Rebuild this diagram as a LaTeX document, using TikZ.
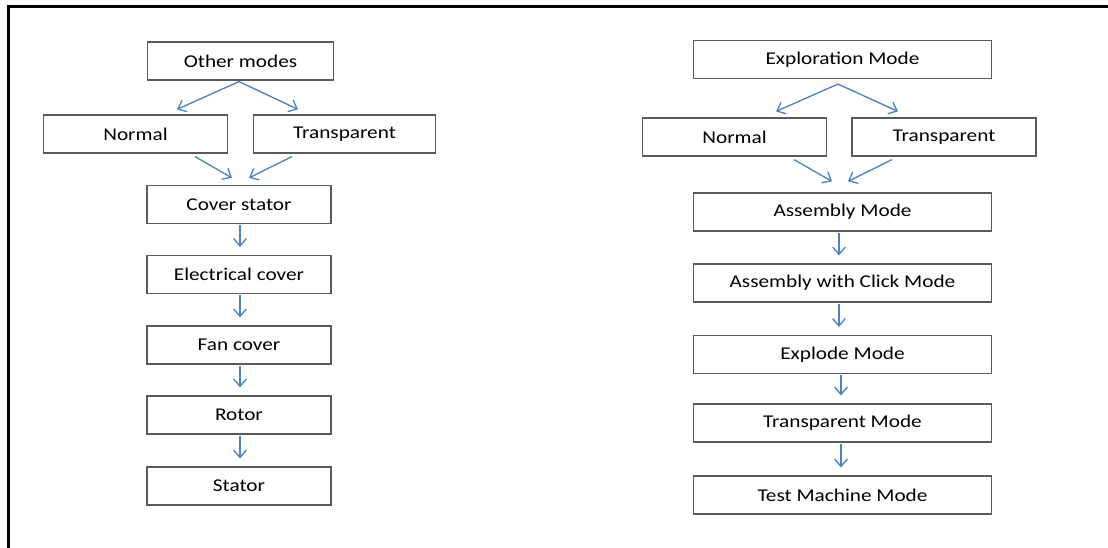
\documentclass[tikz,border=0pt]{standalone}
\usepackage{fontspec}
\setmainfont{Carlito}[FakeStretch=1.18]
\usetikzlibrary{arrows.meta,calc}
\definecolor{arrblue}{HTML}{4F81BD}
\definecolor{boxgray}{HTML}{5A5A5A}
\tikzset{
  modebox/.style={draw=boxgray, line width=0.9pt, fill=white, inner sep=0pt,
    minimum height=28.5pt, font=\fontsize{13.5}{16}\selectfont},
  leftbox/.style={modebox, minimum width=138pt},
  rightbox/.style={modebox, minimum width=224pt},
  arr/.style={draw=arrblue, line width=1pt,
    -{Straight Barb[length=5.5pt,width=9.5pt,line width=1pt]}},
  frameline/.style={draw=black, line width=1.6pt}
}
\begin{document}
\begin{tikzpicture}[x=0.75pt,y=-0.75pt]
\useasboundingbox (0,0) rectangle (1108,548);
% frame
\draw[frameline] (1108,6.5) -- (8.5,6.5) -- (8.5,548);
% left column
\node[leftbox, minimum width=139pt] (om) at (240.5,61) {Other modes};
\node[leftbox] (ln) at (135.5,134) {Normal};
\node[leftbox, minimum width=137pt] (lt) at (344.5,134) {Transparent};
\node[leftbox] (cs) at (239,204.5) {Cover stator};
\node[leftbox] (ec) at (239,274.5) {Electrical cover};
\node[leftbox] (fc) at (239,345) {Fan cover};
\node[leftbox] (ro) at (239,415) {Rotor};
\node[leftbox] (st) at (239,486) {Stator};
% right column
\node[rightbox] (em) at (842.5,59.5) {Exploration Mode};
\node[leftbox] (rn) at (734.5,137) {Normal};
\node[leftbox] (rt) at (944,137) {Transparent};
\node[rightbox] (am) at (842.5,212) {Assembly Mode};
\node[rightbox] (ac) at (842.5,283) {Assembly with Click Mode};
\node[rightbox] (ex) at (842.5,354.5) {Explode Mode};
\node[rightbox] (tm) at (842.5,423) {Transparent Mode};
\node[rightbox] (tt) at (842.5,495) {Test Machine Mode};
% left arrows
\draw[arr] ($(om.south)+(-1.5,1)$) -- ($(ln.north)+(41.5,-5)$);
\draw[arr] ($(om.south)+(-1.5,1)$) -- ($(lt.north)+(-46.5,-5)$);
\draw[arr] ($(ln.south)+(59.5,3)$) -- ($(cs.north)+(-7,-7)$);
\draw[arr] ($(lt.south)+(-52.5,3)$) -- ($(cs.north)+(10,-7)$);
\draw[arr] ($(cs.south)+(1,1)$) -- ($(ec.north)+(1,-8)$);
\draw[arr] ($(ec.south)+(1,1)$) -- ($(fc.north)+(1,-8)$);
\draw[arr] ($(fc.south)+(1,1)$) -- ($(ro.north)+(1,-8)$);
\draw[arr] ($(ro.south)+(1,1)$) -- ($(st.north)+(1,-8)$);
% right arrows
\draw[arr] ($(em.south)+(-4.5,5)$) -- ($(rn.north)+(41.5,-6)$);
\draw[arr] ($(em.south)+(-4.5,5)$) -- ($(rt.north)+(-46,-6)$);
\draw[arr] ($(rn.south)+(59.5,3)$) -- ($(am.north)+(-10.5,-11)$);
\draw[arr] ($(rt.south)+(-52,3)$) -- ($(am.north)+(5.5,-11)$);
\draw[arr] ($(am.south)+(-3.5,1)$) -- ($(ac.north)+(-3.5,-8)$);
\draw[arr] ($(ac.south)+(-3.5,1)$) -- ($(ex.north)+(-3.5,-8)$);
\draw[arr] ($(ex.south)+(-1.5,1)$) -- ($(tm.north)+(-1.5,-8)$);
\draw[arr] ($(tm.south)+(-1.5,1)$) -- ($(tt.north)+(-1.5,-8)$);
\end{tikzpicture}
\end{document}
